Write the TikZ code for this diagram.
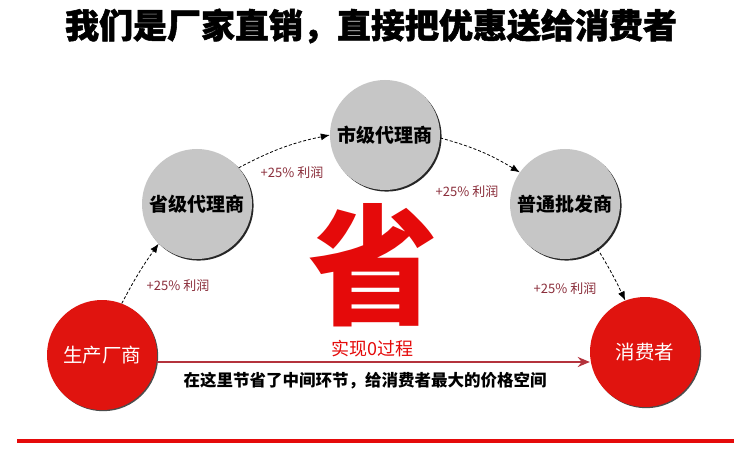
\documentclass[tikz,border=0pt]{standalone}
\usepackage{fontspec}
\newfontfamily\cjk{Noto Sans CJK SC}
\newfontfamily\cjkheavy[BoldFeatures={FakeBold=1.5}]{Noto Sans CJK SC}
\usetikzlibrary{arrows.meta,shadows}
\definecolor{bigred}{HTML}{E50A0A}
\definecolor{circred}{HTML}{E0140F}
\definecolor{circgray}{HTML}{C6C6C6}
\definecolor{profit}{HTML}{8A2D3A}
\definecolor{mainline}{HTML}{B4323C}
\begin{document}
\begin{tikzpicture}[x=1pt,y=-1pt,
  graycirc/.style={circle,minimum size=110pt,inner sep=0pt,fill=circgray,
    drop shadow={shadow xshift=1.6pt,shadow yshift=-1.6pt,fill=black!85,opacity=1},
    font=\cjk\bfseries\fontsize{19}{19}\selectfont,text=black},
  redcirc/.style={circle,minimum size=110pt,inner sep=0pt,fill=circred,
    drop shadow={shadow xshift=1.2pt,shadow yshift=-1.2pt,fill=black!70,opacity=1},
    font=\cjk\fontsize{19.5}{20}\selectfont,text=white},
  profitlbl/.style={font=\cjk\fontsize{13}{13}\selectfont,text=profit,inner sep=0pt},
  flow/.style={densely dashed,line width=0.8pt,black,-{Latex[length=9pt,width=7pt]}}
]
\useasboundingbox (0,0) rectangle (741,457);
\fill[white] (0,0) rectangle (741,457);

\node[font=\cjkheavy\bfseries\fontsize{34}{34}\selectfont,inner sep=0pt] (title) at (371,26) {我们是厂家直销，直接把优惠送给消费者};

\node[redcirc] (maker) at (102,355) {生产厂商};
\node[graycirc] (prov) at (197,204) {省级代理商};
\node[graycirc] (city) at (385,135) {市级代理商};
\node[graycirc] (whole) at (565,204) {普通批发商};
\node[redcirc] (cons) at (645,352) {消费者};

\draw[flow] (maker.69) to[bend left=4] (prov.226);
\draw[flow] (prov.41) to[bend left=8] (city.180);
\draw[flow] (city.-3) to[bend left=8] (whole.145);
\draw[flow] (whole.-54) to[bend left=3] (cons.111);

\node[profitlbl] (p1) at (178,286) {+25\% 利润};
\node[profitlbl] (p2) at (292,173) {+25\% 利润};
\node[profitlbl] (p3) at (467,192) {+25\% 利润};
\node[profitlbl] (p4) at (565,289) {+25\% 利润};

\node[font=\cjk\bfseries\fontsize{130}{130}\selectfont,text=bigred,inner sep=0pt] (sheng) at (373,265) {省};
\node[font=\cjk\fontsize{18}{18}\selectfont,text=bigred,inner sep=0pt] (zero) at (372,349) {实现0过程};

\draw[mainline,line width=1.8pt,-{Stealth[length=12pt,width=10pt]}] (maker.east |- 0,362) coordinate (ms) -- (cons.west |- 0,362);
\node[font=\cjk\bfseries\fontsize{16.5}{17}\selectfont,inner sep=0pt] (note) at (365,381) {在这里节省了中间环节，给消费者最大的价格空间};

\coordinate (bl) at (17,441);
\coordinate (br) at (734,441);
\draw[bigred,line width=4pt] (bl) -- (br);
\end{tikzpicture}
\end{document}
